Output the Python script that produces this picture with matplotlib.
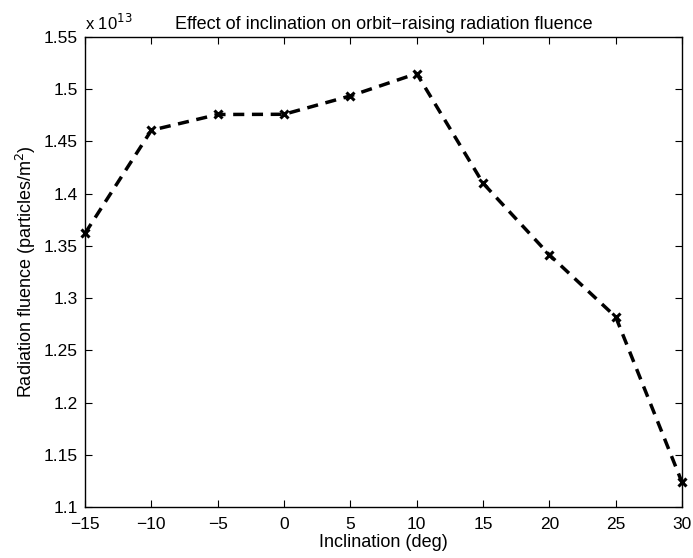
import matplotlib
matplotlib.use("Agg")
import matplotlib.pyplot as plt
import numpy as np

plt.rcParams['font.family'] = ['Liberation Sans', 'DejaVu Sans']

inclination = [-15, -10, -5, 0, 5, 10, 15, 20, 25, 30]
fluence = [1.362e13, 1.4607e13, 1.4758e13, 1.476e13, 1.4936e13, 1.515e13,
           1.410e13, 1.3414e13, 1.282e13, 1.1235e13]
scale = 1e13
xticks = [-15, -10, -5, 0, 5, 10, 15, 20, 25, 30]
yticks = [1.1, 1.15, 1.2, 1.25, 1.3, 1.35, 1.4, 1.45, 1.5, 1.55]
ytick_labels = ['1.1', '1.15', '1.2', '1.25', '1.3', '1.35', '1.4', '1.45', '1.5', '1.55']

fig = plt.figure(figsize=(6.93, 5.58), dpi=100)
ax = fig.add_axes([0.1227, 0.0914, 0.8615, 0.8423])
ax.plot(inclination, np.array(fluence) / scale, color='black', linestyle='--',
        linewidth=2.5, dashes=(3.2, 2.2), marker='x', markersize=6, markeredgewidth=2.2,
        clip_on=False)
ax.set_xlim(-15, 30)
ax.set_ylim(1.1, 1.55)
ax.set_xticks(xticks)
ax.set_xticklabels([('\u2212' + str(-t)) if t < 0 else str(t) for t in xticks])
ax.set_yticks(yticks)
ax.set_yticklabels(ytick_labels)
ax.tick_params(direction='in', top=True, right=True, length=5, width=0.8,
               labelsize=12.5)
ax.tick_params(axis='x', pad=7)
ax.tick_params(axis='y', pad=5)
for s in ax.spines.values():
    s.set_linewidth(1.0)
ax.set_xlabel('Inclination (deg)', fontsize=13, labelpad=2)
ax.set_ylabel('Radiation fluence (particles/m$^2$)', fontsize=13, labelpad=4)
ax.set_title('Effect of inclination on orbit\u2212raising radiation fluence', fontsize=13, pad=6)
ax.text(0.0, 1.008, 'x 10$^{13}$', transform=ax.transAxes, fontsize=12,
        ha='left', va='bottom')
fig.savefig('out.png', dpi=100)
